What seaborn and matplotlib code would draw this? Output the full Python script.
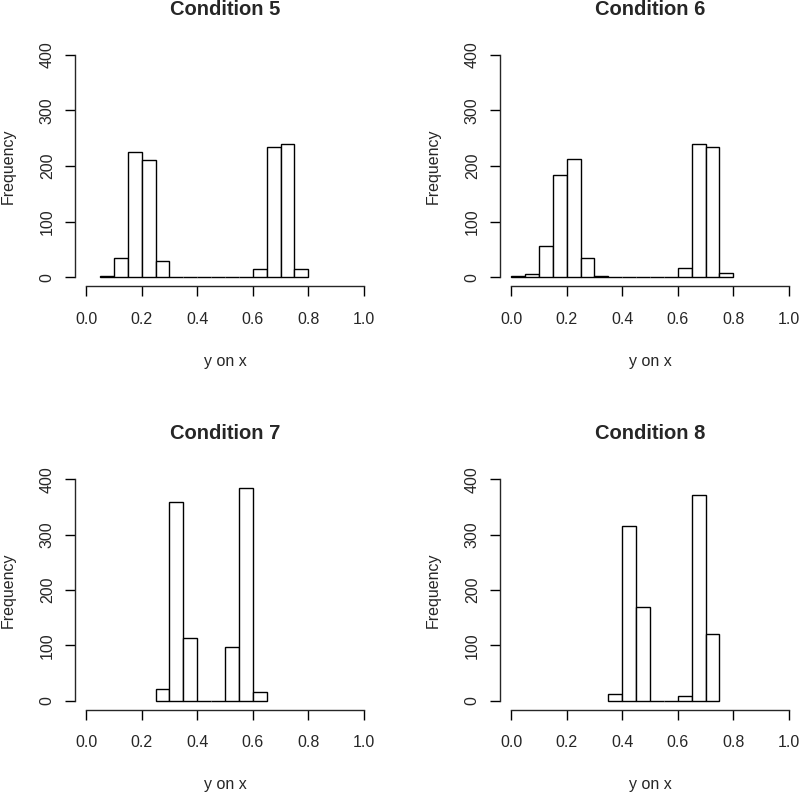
import numpy as np
import pandas as pd
import matplotlib
matplotlib.use("Agg")
import matplotlib.pyplot as plt
import seaborn as sns

sns.set_style("ticks")
plt.rcParams['font.family'] = ['Liberation Sans', 'DejaVu Sans']

# bin edges (width 0.05) and counts
edges_5 = [0.05, 0.10, 0.15, 0.20, 0.25, 0.30, 0.35, 0.40, 0.45, 0.50, 0.55, 0.60, 0.65, 0.70, 0.75, 0.80]
counts_5 = [2, 34, 225, 211, 29, 0, 0, 0, 0, 0, 0, 14, 234, 240, 14]

edges_6 = [0.00, 0.05, 0.10, 0.15, 0.20, 0.25, 0.30, 0.35, 0.40, 0.45, 0.50, 0.55, 0.60, 0.65, 0.70, 0.75, 0.80]
counts_6 = [2, 6, 56, 184, 212, 35, 2, 0, 0, 0, 0, 0, 17, 240, 234, 8]

edges_7 = [0.25, 0.30, 0.35, 0.40, 0.45, 0.50, 0.55, 0.60, 0.65]
counts_7 = [22, 359, 113, 0, 0, 97, 384, 16]

edges_8 = [0.35, 0.40, 0.45, 0.50, 0.55, 0.60, 0.65, 0.70, 0.75]
counts_8 = [13, 316, 170, 0, 0, 8, 371, 120]

titles = ["Condition 5", "Condition 6", "Condition 7", "Condition 8"]
panels = [(edges_5, counts_5), (edges_6, counts_6), (edges_7, counts_7), (edges_8, counts_8)]

fig = plt.figure(figsize=(8, 7.92), dpi=100)
positions = [
    [0.09375, 0.6389, 0.375, 0.303],
    [0.625, 0.6389, 0.375, 0.303],
    [0.09375, 0.1039, 0.375, 0.302],
    [0.625, 0.1039, 0.375, 0.302],
]

for pos, title, (edges, counts) in zip(positions, titles, panels):
    ax = fig.add_axes(pos)
    e = np.array(edges)
    df = pd.DataFrame({"mid": (e[:-1] + e[1:]) / 2, "n": counts})
    sns.histplot(data=df, x="mid", weights="n", bins=edges, ax=ax,
                 color="white", edgecolor="black", linewidth=1, alpha=1)
    ax.set_xlim(-0.04, 1.04)
    ax.set_ylim(-16, 416)
    ax.set_xticks([0, 0.2, 0.4, 0.6, 0.8, 1.0])
    ax.set_xticklabels(["0.0", "0.2", "0.4", "0.6", "0.8", "1.0"])
    ax.set_yticks([0, 100, 200, 300, 400])
    for lab in ax.get_yticklabels():
        lab.set_rotation(90)
        lab.set_va("center")
    ax.spines["top"].set_visible(False)
    ax.spines["right"].set_visible(False)
    ax.spines["left"].set_bounds(0, 400)
    ax.spines["bottom"].set_bounds(0, 1)
    ax.spines["left"].set_linewidth(1)
    ax.spines["bottom"].set_linewidth(1)
    ax.tick_params(axis="both", length=7.5, width=1, labelsize=11.5, color="black")
    ax.tick_params(axis="x", pad=11)
    ax.tick_params(axis="y", pad=7)
    ax.set_xlabel("y on x", fontsize=11.5, labelpad=19.5)
    ax.set_ylabel("Frequency", fontsize=11.5, labelpad=17.5)
    ax.set_title(title, fontsize=14.5, fontweight="bold", pad=22.5)

fig.savefig("out.png", dpi=100)
